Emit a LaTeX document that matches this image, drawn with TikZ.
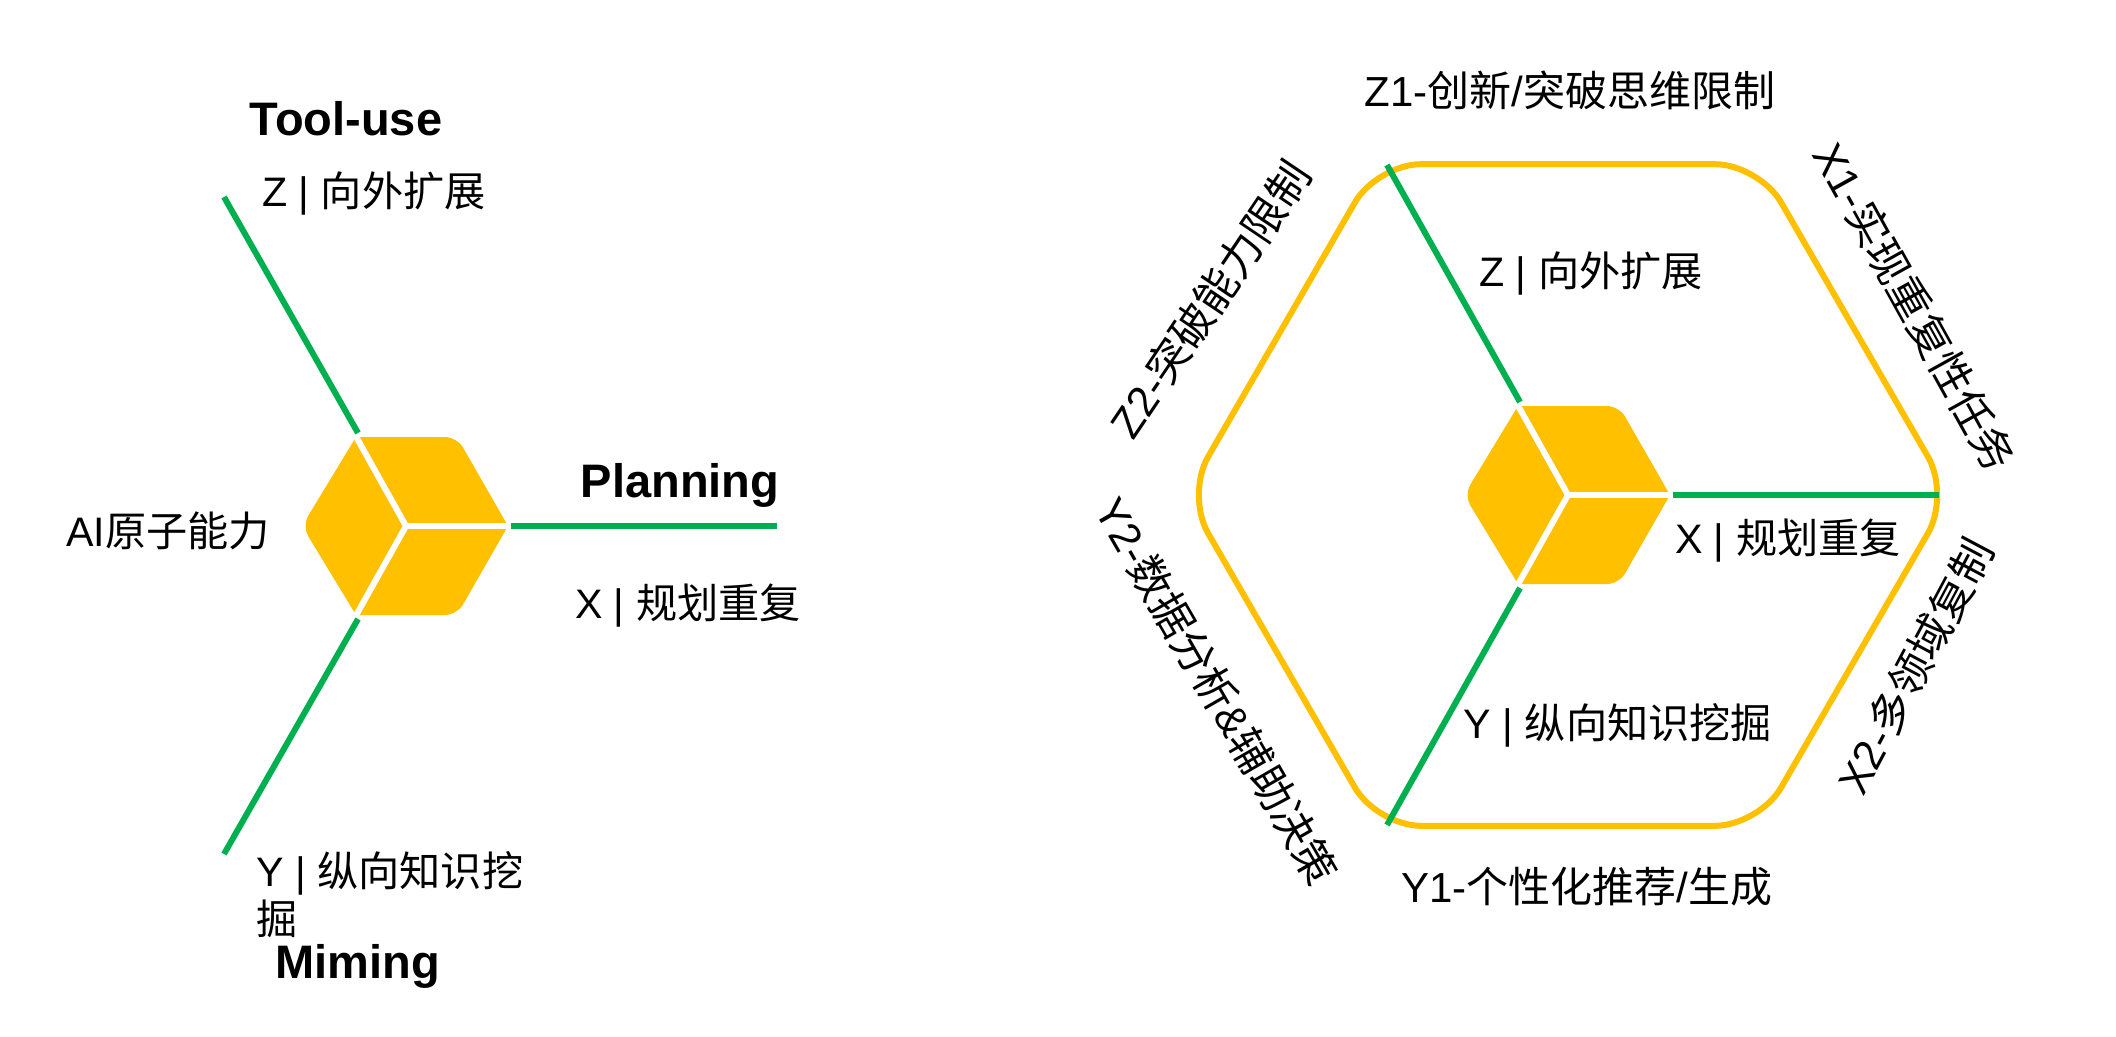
\documentclass[tikz,border=0pt]{standalone}
\usepackage{fontspec}
\setmainfont{Liberation Sans}
\newfontfamily\cjk{Noto Sans CJK SC}
\usepackage{tikz}
\usetikzlibrary{positioning}
\definecolor{cubeyellow}{HTML}{FFC000}
\definecolor{axisgreen}{HTML}{00B050}
\tikzset{
  lbl/.style    ={inner sep=0pt, align=left, font=\fontsize{41.2}{48}\selectfont},
  lblT/.style   ={lbl, font=\fontsize{42}{50}\selectfont},    % above and below the ring
  lblO/.style   ={lbl, font=\fontsize{42.8}{50}\selectfont},  % slanted, round the ring
  lblB/.style   ={lbl, font=\fontsize{47}{52}\selectfont\bfseries},
  axis/.style   ={draw=axisgreen, line width=6pt},
  ring/.style   ={draw=cubeyellow, line width=6pt, rounded corners=44pt},
  cubeicon/.pic ={
    \fill[cubeyellow] (102,0) [rounded corners=12pt] -- (51,-89) [sharp corners] -- (-50,-89)
      [rounded corners=12pt] -- (-104,0) [sharp corners] -- (-50,89)
      [rounded corners=12pt] -- (51,89) [sharp corners] -- cycle;
    \foreach \p in {(106,0),(-52,-93),(-52,93)} \draw[white, line width=6pt] (0,0) -- \p;
    \coordinate (-x) at (105,0);
    \coordinate (-y) at (-48,93);
    \coordinate (-z) at (-48,-93);
  },
}
\begin{document}
\begin{tikzpicture}[x=1pt, y=-1pt]   % pixels, y down
  \useasboundingbox (0,0) rectangle (2116,1036);
  % left
  \pic (lc) at (406,526) {cubeicon};
  \coordinate (lx) at (777,526);
  \coordinate (ly) at (224,854);
  \coordinate (lz) at (224,197);
  \draw[axis] (lc-x) -- (lx);
  \draw[axis] (lc-y) -- (ly);
  \draw[axis] (lc-z) -- (lz);
  \node[lblB] (tool) at (346,119)  {Tool-use};
  \node[lbl]  (lzt)  at (374,194)  {Z | {\cjk 向外扩展}};
  \node[lblB] (plan) at (680,485)  {Planning};
  \node[lbl]  (lxt)  at (688,606)  {X | {\cjk 规划重复}};
  \node[lbl]  (atom) at (168,531)  {AI{\cjk 原子能力}};
  \node[lbl, anchor=north west] (lyt) at (256,851) {Y | {\cjk 纵向知识挖}\\{\cjk 掘}};
  \node[lblB] (mine) at (358,966)  {Miming};
  % right
  \pic (rc) at (1568,495) {cubeicon};
  \draw[ring, shift={(1568,495)}] (0:382) -- (60:382) -- (120:382) -- (180:382) -- (240:382) -- (300:382) -- cycle;
  \coordinate (rx) at (1939,495);
  \coordinate (ry) at (1387,825);
  \coordinate (rz) at (1387,165);
  \draw[axis] (rc-x) -- (rx);
  \draw[axis] (rc-y) -- (ry);
  \draw[axis] (rc-z) -- (rz);
  \node[lbl] (rzt) at (1591,274) {Z | {\cjk 向外扩展}};
  \node[lbl] (rxt) at (1788,541) {X | {\cjk 规划重复}};
  \node[lbl] (ryt) at (1618,725) {Y | {\cjk 纵向知识挖掘}};
  \node[lblT] (z1) at (1570,90) {Z1-{\cjk 创新}/{\cjk 突破思维限制}};
  \node[lblO, rotate=-61] (x1) at (1915,307) {X1-{\cjk 实现重复性任务}};
  \node[lblO, rotate=62]  (x2) at (1915,666) {X2-{\cjk 多领域复制}};
  \node[lblT] (y1) at (1587,887) {Y1-{\cjk 个性化推荐}/{\cjk 生成}};
  \node[lblO, rotate=-60] (y2) at (1217,691) {Y2-{\cjk 数据分析}\&{\cjk 辅助决策}};
  \node[lblO, rotate=56]  (z2) at (1210,299) {Z2-{\cjk 突破能力限制}};
\end{tikzpicture}
\end{document}
